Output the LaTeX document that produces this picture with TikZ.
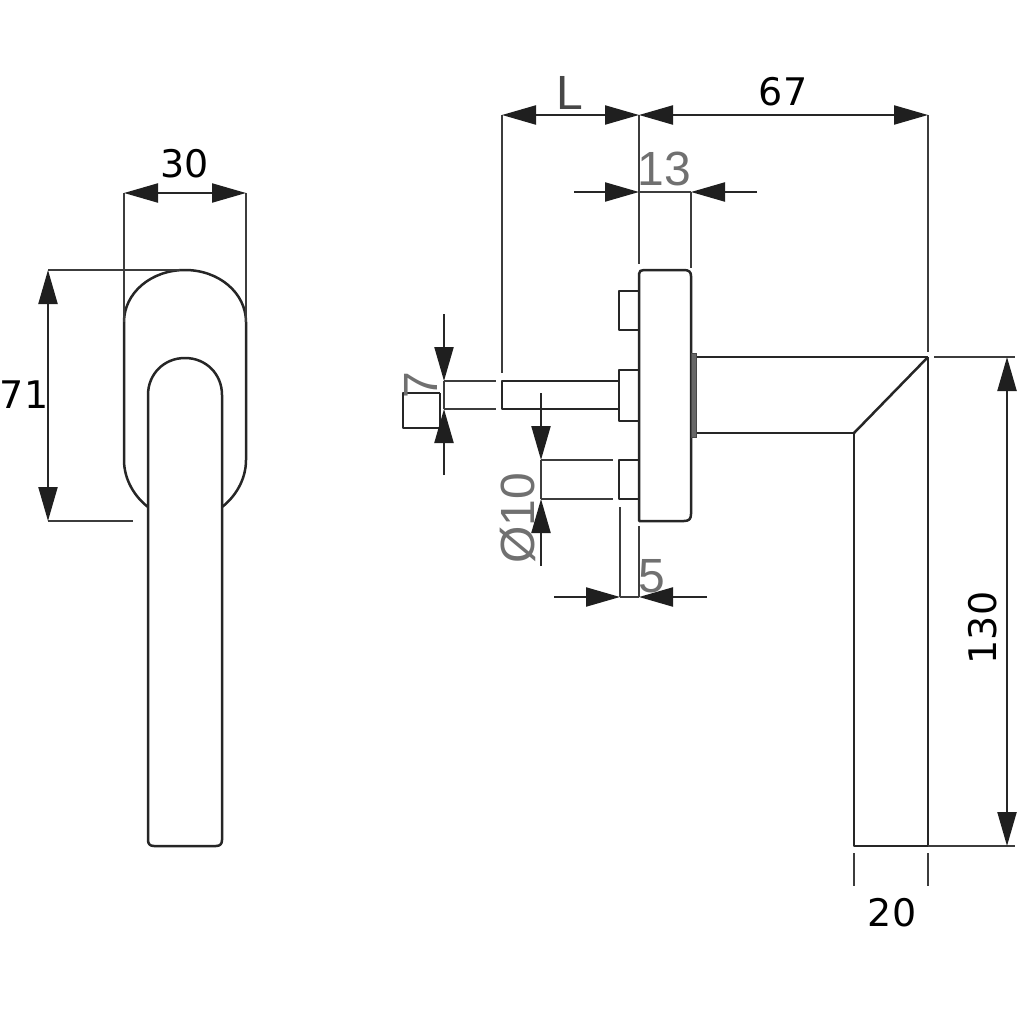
\documentclass[tikz,border=0pt]{standalone}
\usepackage{fontspec}
\setmainfont{DejaVu Sans}
\newfontfamily\greyfont{Liberation Sans}
\usetikzlibrary{arrows.meta}
\definecolor{ink}{HTML}{262626}
\definecolor{greytext}{HTML}{707070}
\tikzset{
  outline/.style={draw=ink,line width=2.5pt,line join=round},
  thin ext/.style={draw=ink!90!white,line width=2.1pt},
  dimline/.style={draw=ink,line width=2.2pt,>={Triangle[length=34pt,width=19pt,color=black!88]}},
  blacklabel/.style={font=\fontsize{38}{38}\selectfont,text=black,inner sep=0pt},
  greylabel/.style={font=\greyfont\fontsize{48}{48}\selectfont,text=greytext,inner sep=0pt},
  darklabel/.style={font=\greyfont\fontsize{48}{48}\selectfont,text=ink!85!white,inner sep=0pt},
}
\begin{document}
\begin{tikzpicture}[x=1pt,y=-1pt]
\useasboundingbox (0,0) rectangle (1024,1024);
% ---------- left view
\path[outline] (124,322) .. controls (124,293) and (151,270) .. (185,270)
  .. controls (219,270) and (246,293) .. (246,322) -- (246,460)
  .. controls (246,480) and (235,497) .. (222,507);
\path[outline] (148,507) .. controls (135,497) and (124,480) .. (124,460) -- (124,322);
\path[outline] (148,395) .. controls (148,374) and (164,358) .. (185,358)
  .. controls (206,358) and (222,374) .. (222,395) -- (222,840)
  .. controls (222,844) and (220,846) .. (216,846) -- (154,846)
  .. controls (150,846) and (148,844) .. (148,840) -- cycle;
\path[thin ext] (124,193) -- (124,322);
\path[thin ext] (246,193) -- (246,322);
\path[dimline,<->] (124,193) -- (246,193);
\path[thin ext] (48,270) -- (180,270);
\path[thin ext] (48,521) -- (133,521);
\path[dimline,<->] (48,270) -- (48,521);
\node[blacklabel] (t30) at (185,164) {30};
\node[blacklabel] (t71) at (24,395) {7\kern1pt 1};
% ---------- side view: rose plate
\path[outline] (639,521) -- (639,274) .. controls (639,271) and (641,270) .. (644,270)
  -- (684,270) .. controls (689,270) and (691,272) .. (691,276) -- (691,514)
  .. controls (691,519) and (689,521) .. (684,521) -- cycle;
\path[outline] (639,291) -- (619,291) -- (619,330) -- (639,330);
\path[outline] (639,370) -- (619,370) -- (619,421) -- (639,421);
\path[outline] (639,460) -- (619,460) -- (619,499) -- (639,499);
% spindle
\path[outline] (619,381) -- (502,381) -- (502,409) -- (619,409);
\path[thin ext] (444,381) -- (496,381);
\path[thin ext] (444,409) -- (496,409);
\path[outline] (440,393) -- (403,393) -- (403,428) -- (440,428);
\path[outline] (440,393) -- (440,428);
% neck and lever
\path[draw=ink!85!white,fill=ink!70!white,line width=1pt] (691,353) rectangle (696,437);
\path[outline] (697,357) -- (928,357);
\path[outline] (697,433) -- (854,433) -- (854,846) -- (928,846) -- (928,357);
\path[outline] (854,433) -- (928,357);
% extension lines
\path[thin ext] (502,115) -- (502,373);
\path[thin ext] (639,115) -- (639,264);
\path[thin ext] (691,192) -- (691,268);
\path[thin ext] (928,115) -- (928,352);
\path[thin ext] (934,357) -- (1015,357);
\path[thin ext] (928,846) -- (1015,846);
\path[thin ext] (854,853) -- (854,886);
\path[thin ext] (928,853) -- (928,886);
\path[thin ext] (541,460) -- (613,460);
\path[thin ext] (541,499) -- (613,499);
\path[thin ext] (620,507) -- (620,597);
\path[thin ext] (639,526) -- (639,597);
% dimensions
\path[dimline,<->] (502,115) -- (639,115);
\path[dimline,<->] (639,115) -- (928,115);
\path[dimline,->] (574,192) -- (639,192);
\path[dimline,->] (757,192) -- (691,192);
\path[thin ext] (639,192) -- (691,192);
\path[dimline,<->] (1007,357) -- (1007,846);
\path[dimline,->] (444,314) -- (444,381);
\path[dimline,->] (444,475) -- (444,409);
\path[thin ext] (444,381) -- (444,409);
\path[dimline,->] (541,393) -- (541,460);
\path[dimline,->] (541,566) -- (541,499);
\path[thin ext] (541,460) -- (541,499);
\path[dimline,->] (554,597) -- (620,597);
\path[dimline,->] (707,597) -- (639,597);
\path[thin ext] (620,597) -- (639,597);
% labels
\node[darklabel] (tL) at (570,93) {L};
\node[blacklabel] (t67) at (783,92) {67};
\node[greylabel] (t13) at (664,169) {13};
\node[greylabel,rotate=90] (t7) at (421,385) {7};
\node[greylabel,rotate=90] (td10) at (518,518) {Ø10};
\node[greylabel] (t5) at (652,576) {5};
\node[blacklabel,rotate=90] (t130) at (983,628) {130};
\node[blacklabel] (t20) at (892,913) {20};
\end{tikzpicture}
\end{document}
